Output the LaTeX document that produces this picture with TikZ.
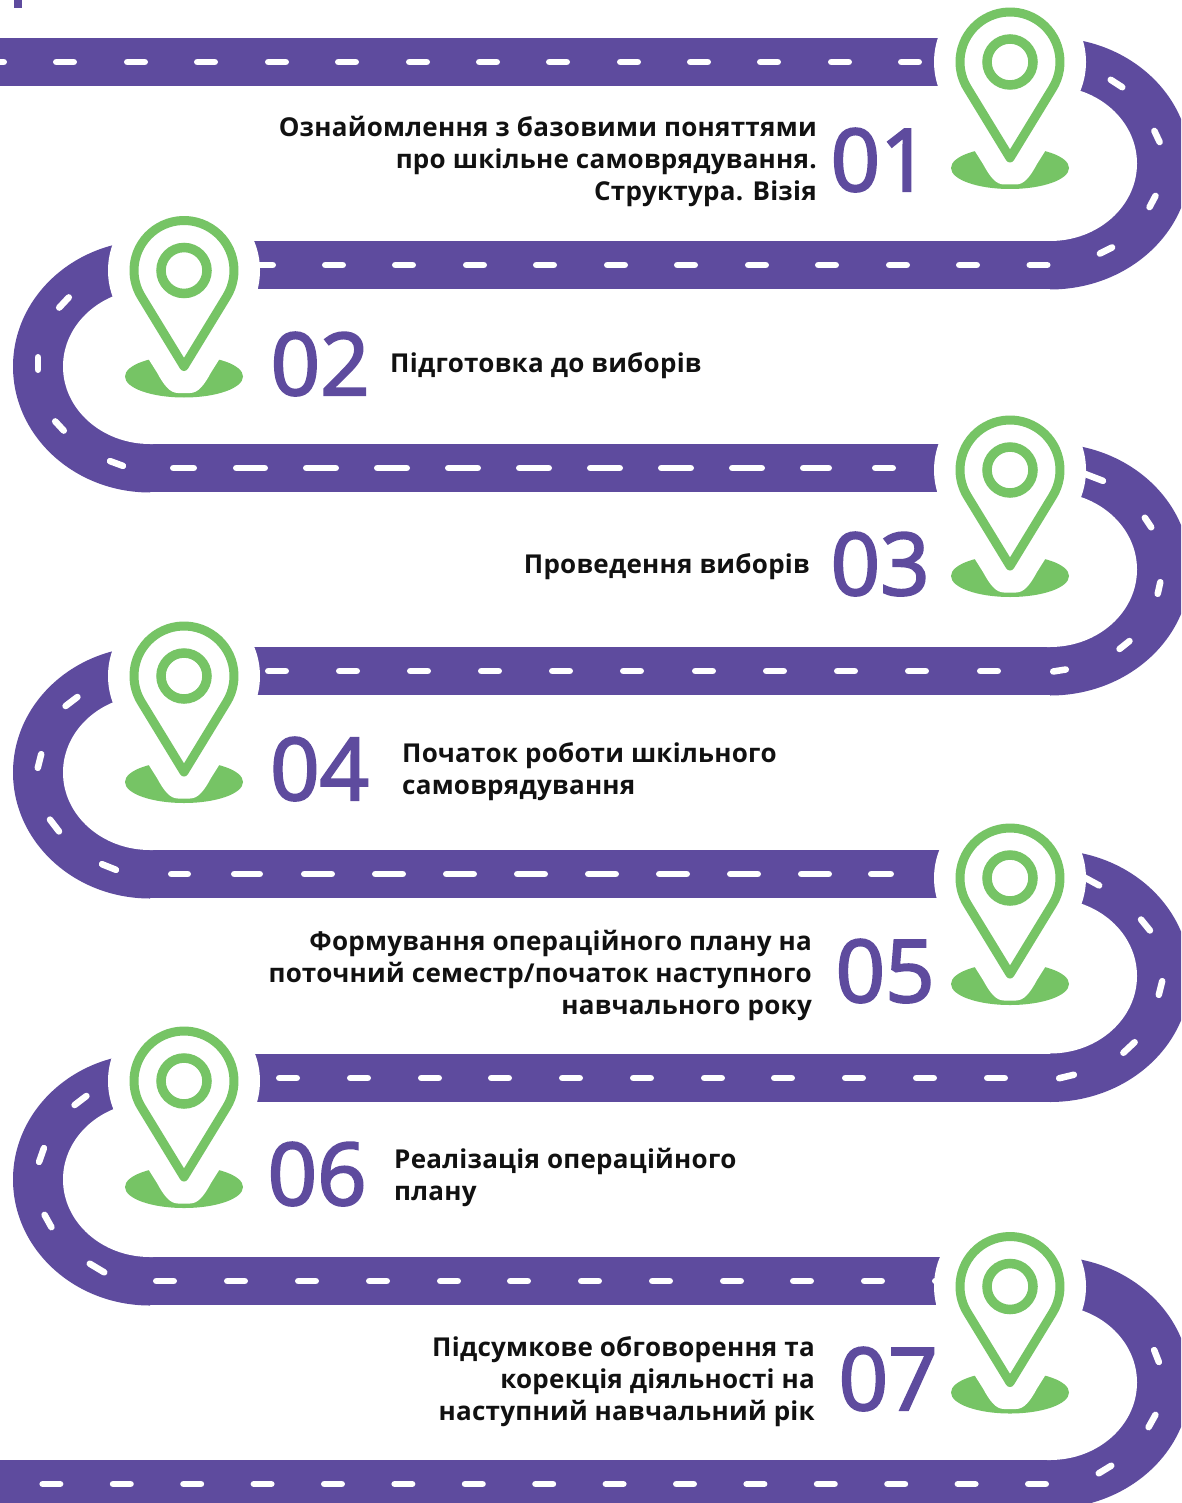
\documentclass[tikz,border=0pt]{standalone}
\usepackage{fontspec}
\setmainfont{Open Sans}
\newfontfamily\semifont[LetterSpace=1.0]{Open Sans}
\newfontfamily\numfont[FakeBold=2.5]{Open Sans}
\definecolor{roadc}{HTML}{5E4B9E}
\definecolor{pinc}{HTML}{76C465}
\definecolor{inkc}{HTML}{111111}
\tikzset{
  lane/.style={white,line width=6.5pt,line cap=round,shorten <=3.25pt,shorten >=3.25pt},
  pinline/.style={pinc,line width=9pt,line join=round},
  numlabel/.style={anchor=base west,inner sep=0pt,text=roadc,font=\numfont\fontsize{86.5}{88}\selectfont},
  lefttext/.style={anchor=west,inner sep=0pt,align=left,text=inkc,font=\semifont\bfseries\fontsize{26}{32}\selectfont},
  righttext/.style={anchor=east,inner sep=0pt,align=right,text=inkc,font=\semifont\bfseries\fontsize{26}{32}\selectfont},
}
\newcommand\bandrow[3]{\fill[roadc] (#1,-#3+24) rectangle (#2,-#3-24);}
\newcommand\rightbend[1]{%
  \fill[roadc] (1050,-#1+126) arc[start angle=90,end angle=-90,x radius=140,y radius=126] -- cycle;
  \fill[white] (1047,-#1+77.5) -- (1050,-#1+77.5) arc[start angle=90,end angle=-90,x radius=87,y radius=77.5] -- (1047,-#1-77.5) -- cycle;}
\newcommand\leftbend[1]{%
  \fill[roadc] (150,-#1+126) arc[start angle=90,end angle=270,x radius=137,y radius=126] -- cycle;
  \fill[white] (153,-#1+77.5) -- (150,-#1+77.5) arc[start angle=90,end angle=270,x radius=87,y radius=77.5] -- (153,-#1-77.5) -- cycle;}
\newcommand\lanes[3]{\foreach \c in {#3} {\draw[lane] (\c-#2,-#1) -- (\c+#2,-#1);}}
\newcommand\seg[4]{\draw[lane] (#1,-#2) -- (#3,-#4);}
\newcommand\halo[2]{\fill[white] (#1,-#2) circle[radius=76];}
\newcommand\pinmark[2]{%
  \begin{scope}[shift={(#1,-#2)}]
    \fill[pinc] (0,-106) ellipse[x radius=59,y radius=21];
    \fill[white] (-44,-75) -- (-27,-102) .. controls (-20,-115) and (-14,-122.5) .. (-6,-122.5)
      -- (6,-122.5) .. controls (14,-122.5) and (20,-115) .. (27,-102) -- (44,-75) -- cycle;
    \draw[pinline] (0,-96) -- (-31.8:50) arc[start angle=-31.8,end angle=211.8,radius=50] -- cycle;
    \draw[pinc,line width=9.5pt] (0,0) circle[radius=23];
  \end{scope}}
\begin{document}
\begin{tikzpicture}[x=1pt,y=1pt]
\useasboundingbox (0,-1503) rectangle (1181,0);
\clip (0,-1503) rectangle (1181,0);
% road
\fill[roadc] (13.5,0) rectangle (21.5,-8.5);
\bandrow{-5}{1051}{62}
\bandrow{149}{1051}{265}
\bandrow{149}{1051}{468}
\bandrow{149}{1051}{671}
\bandrow{149}{1051}{874}
\bandrow{149}{1051}{1078}
\bandrow{149}{1051}{1281}
\bandrow{-5}{1051}{1484}
\rightbend{163.5}
\rightbend{569.5}
\rightbend{976}
\rightbend{1382.5}
\leftbend{366.5}
\leftbend{772.5}
\leftbend{1179.5}
% lane marks, straight
\lanes{62}{12}{-5,65,136,206,277,347,418,488,558,629,699,769,840,910}
\lanes{265}{12}{264,334,404,475,545,616,686,757,827,898,968,1038.5}
\seg{170}{468}{197}{468}\seg{233}{468}{268}{468}\seg{303}{468}{339}{468}\seg{374}{468}{410}{468}
\seg{445}{468}{481}{468}\seg{516}{468}{552}{468}\seg{587}{468}{623}{468}\seg{658}{468}{694}{468}
\seg{729}{468}{765}{468}\seg{800}{468}{832}{468}\seg{872}{468}{896}{468}
\lanes{671}{12}{277,348,419,490,561,632,704,775,846,917,989}
\seg{168}{874}{191}{874}\seg{231}{874}{263}{874}\seg{301}{874}{335}{874}\seg{372}{874}{406}{874}
\seg{443}{874}{477}{874}\seg{514}{874}{548}{874}\seg{585}{874}{619}{874}\seg{656}{874}{690}{874}
\seg{727}{874}{761}{874}\seg{798}{874}{832}{874}\seg{868}{874}{894}{874}
\lanes{1078}{12}{288,359,430,500,571,642,713,783,854,925,996}
\lanes{1281}{12}{165,236,307,378,449,519,590,661,732,802,873,944}
\lanes{1484}{12}{-19,51.4,121.8,192.2,262.6,333,403.4,473.8,544.2,614.6,685,755.4,825.8,896.2,966.6,1037}
% lane marks, curved stretches
\seg{1108}{78}{1125}{89}\seg{1153}{128}{1161}{145}\seg{1157}{193}{1148}{210}\seg{1115}{246}{1097}{255}
\seg{71}{295}{57}{310}\seg{38}{354}{38}{373}\seg{53}{419}{66}{433}\seg{107}{460}{126}{467}
\seg{1080}{472}{1106}{482}\seg{1143}{515}{1153}{530}\seg{1161}{579}{1157}{597}\seg{1132}{639}{1117}{651}\seg{1069}{669}{1050}{672}
\seg{80}{695}{63}{708}\seg{42}{751}{37}{771}\seg{48}{817}{61}{834}\seg{99}{863}{119}{871}
\seg{1080}{875}{1102}{887}\seg{1139}{917}{1152}{933}\seg{1163}{978}{1158}{998}\seg{1137}{1040}{1121}{1055}\seg{1077}{1074}{1056}{1079}
\seg{89}{1094}{72}{1107}\seg{45}{1145}{38}{1165}\seg{43}{1212}{53}{1230}\seg{87}{1262}{107}{1274}
\seg{1153}{1347}{1160}{1365}\seg{1157}{1412}{1147}{1430}\seg{1114}{1464}{1096}{1475}
% halos and pins
\halo{1010}{62}\halo{184}{270.5}\halo{1010}{470}\halo{184}{676}\halo{1010}{878}\halo{184}{1081}\halo{1010}{1286.5}
\pinmark{1010}{62}
\pinmark{184}{270.5}
\pinmark{1010}{470}
\pinmark{184}{676}
\pinmark{1010}{878}
\pinmark{184}{1081}
\pinmark{1010}{1286.5}
% numbers
\node[numlabel] (n1) at (830.5,-191) {01};
\node[numlabel] (n2) at (270.5,-395) {02};
\node[numlabel] (n3) at (830.5,-595) {03};
\node[numlabel] (n4) at (270,-800) {04};
\node[numlabel] (n5) at (835.5,-1002) {05};
\node[numlabel] (n6) at (267.5,-1205) {06};
\node[numlabel] (n7) at (838.5,-1410) {07};
% texts
\node[righttext] (t1) at (817,-161) {Ознайомлення з базовими поняттями\\про шкільне самоврядування.\\Структура. Візія};
\node[lefttext] (t2) at (390,-366) {Підготовка до виборів};
\node[righttext] (t3) at (810,-567) {Проведення виборів};
\node[lefttext] (t4) at (402,-772) {Початок роботи шкільного\\самоврядування};
\node[righttext] (t5) at (812,-975) {Формування операційного плану на\\поточний семестр/початок наступного\\навчального року};
\node[lefttext] (t6) at (394,-1177) {Реалізація операційного\\плану};
\node[righttext] (t7) at (815,-1382) {Підсумкове обговорення та\\корекція діяльності на\\наступний навчальний рік};
\end{tikzpicture}
\end{document}
